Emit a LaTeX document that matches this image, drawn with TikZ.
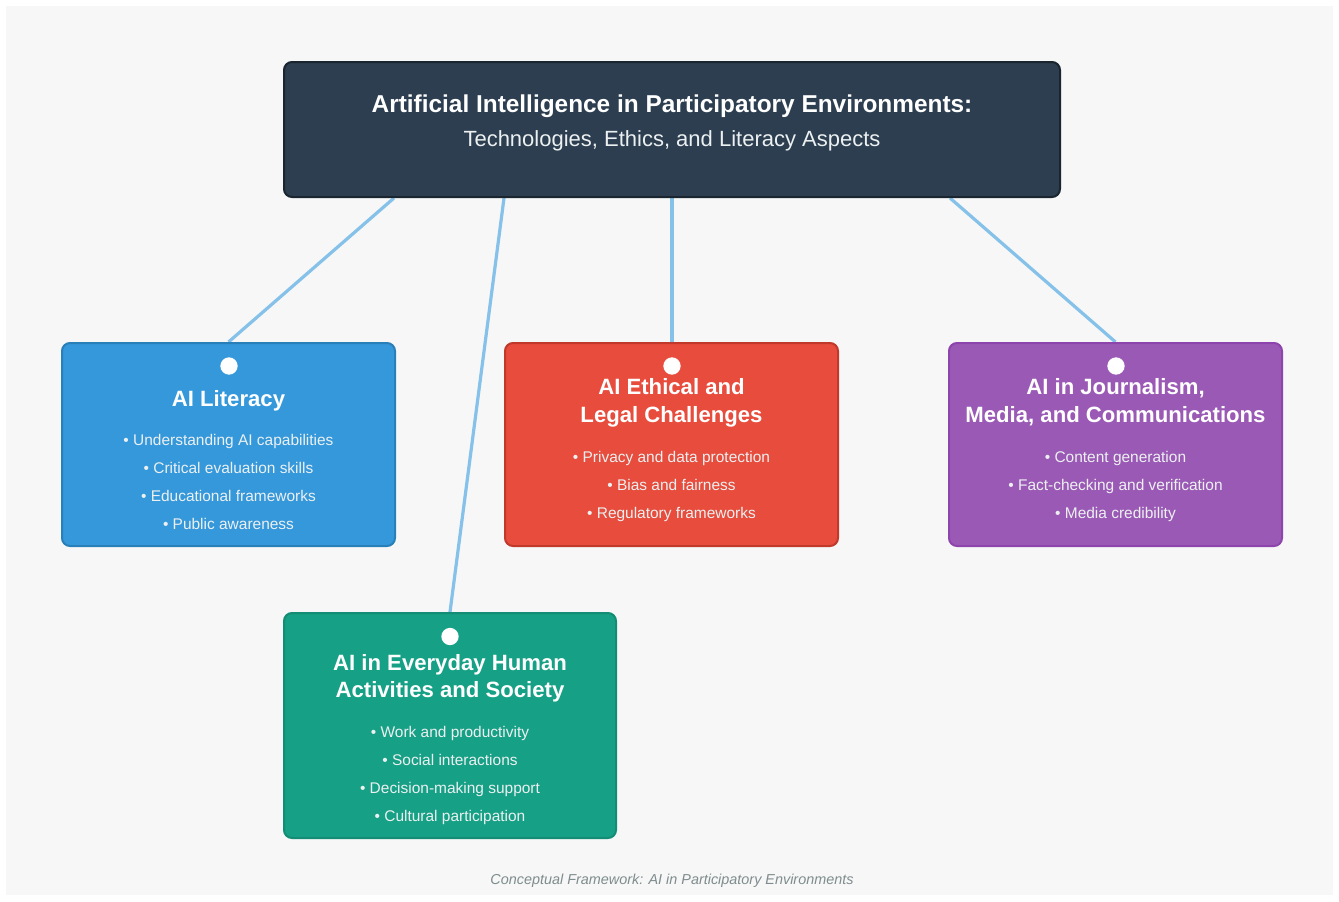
\documentclass[tikz,border=0pt]{standalone}
\usepackage{fontspec}
\setmainfont{Liberation Sans}
\usetikzlibrary{calc,backgrounds}
\definecolor{bgc}{HTML}{F7F7F7}
\definecolor{topfill}{HTML}{2C3E50}
\definecolor{topline}{HTML}{1A252F}
\definecolor{bluef}{HTML}{3498DB}
\definecolor{bluel}{HTML}{2980B9}
\definecolor{redf}{HTML}{E74C3C}
\definecolor{redl}{HTML}{C0392B}
\definecolor{purf}{HTML}{9B59B6}
\definecolor{purl}{HTML}{8E44AD}
\definecolor{grnf}{HTML}{16A085}
\definecolor{grnl}{HTML}{138D75}
\definecolor{conn}{HTML}{85C1E9}
\definecolor{itemc}{HTML}{ECF0F1}
\definecolor{capc}{HTML}{7F8C8D}
\tikzset{
  box/.style={rectangle, rounded corners=6pt, line width=1.5pt, inner sep=0pt},
  connector/.style={conn, line width=2.4pt},
  dot/.style={circle, fill=white, draw=none, minimum size=13pt, inner sep=0pt},
  ttl/.style={anchor=base, text=white, font=\fontsize{16.6}{19}\selectfont\bfseries},
  itm/.style={anchor=base, text=itemc, font=\fontsize{11.6}{14}\selectfont},
}
\begin{document}
\begin{tikzpicture}[x=0.75pt,y=-0.75pt]
\useasboundingbox (0,0) rectangle (1339,901);
% boxes
\node[box, fill=topfill, draw=topline, minimum width={776*0.75pt}, minimum height={135*0.75pt}] (top) at (672,129.5) {};
\node[box, fill=bluef, draw=bluel, minimum width={333*0.75pt}, minimum height={203*0.75pt}] (lit) at (228.5,444.5) {};
\node[box, fill=redf, draw=redl, minimum width={333*0.75pt}, minimum height={203*0.75pt}] (eth) at (671.5,444.5) {};
\node[box, fill=purf, draw=purl, minimum width={333*0.75pt}, minimum height={203*0.75pt}] (jou) at (1115.5,444.5) {};
\node[box, fill=grnf, draw=grnl, minimum width={332*0.75pt}, minimum height={225*0.75pt}] (evd) at (450,725.5) {};
% top texts
\node[anchor=base, text=white, font=\fontsize{18.3}{22}\selectfont\bfseries] (toptitle) at (672,112.5) {Artificial Intelligence in Participatory Environments:};
\node[anchor=base, text=itemc, font=\fontsize{16.5}{19}\selectfont] (topsub) at (672,146.5) {Technologies, Ethics, and Literacy Aspects};
% dots
\node[dot] (litdot) at (229,366) {};
\node[dot] (ethdot) at (672,366) {};
\node[dot] (joudot) at (1116,366) {};
\node[dot] (evddot) at (450,636.5) {};
% AI Literacy
\node[ttl] (litt) at (228.5,406) {AI Literacy};
\node[itm] (lit1) at (228.5,445) {• Understanding AI capabilities};
\node[itm] (lit2) at (228.5,473) {• Critical evaluation skills};
\node[itm] (lit3) at (228.5,501) {• Educational frameworks};
\node[itm] (lit4) at (228.5,529) {• Public awareness};
% Ethical
\node[ttl] (etht1) at (671.5,394) {AI Ethical and};
\node[ttl] (etht2) at (671.5,422) {Legal Challenges};
\node[itm] (eth1) at (671.5,462) {• Privacy and data protection};
\node[itm] (eth2) at (671.5,490) {• Bias and fairness};
\node[itm] (eth3) at (671.5,518) {• Regulatory frameworks};
% Journalism
\node[ttl] (jout1) at (1115.5,394) {AI in Journalism,};
\node[ttl] (jout2) at (1115.5,422) {Media, and Communications};
\node[itm] (jou1) at (1115.5,462) {• Content generation};
\node[itm] (jou2) at (1115.5,490) {• Fact-checking and verification};
\node[itm] (jou3) at (1115.5,518) {• Media credibility};
% Everyday
\node[ttl] (evdt1) at (450,670) {AI in Everyday Human};
\node[ttl] (evdt2) at (450,697.5) {Activities and Society};
\node[itm] (evd1) at (450,737) {• Work and productivity};
\node[itm] (evd2) at (450,765) {• Social interactions};
\node[itm] (evd3) at (450,793) {• Decision-making support};
\node[itm] (evd4) at (450,821.5) {• Cultural participation};
% caption
\node[anchor=base, text=capc, font=\fontsize{10.8}{13}\selectfont\itshape] (cap) at (672,884.5) {Conceptual Framework: AI in Participatory Environments};
% background and connectors
\begin{scope}[on background layer]
\fill[white] (0,0) rectangle (1339,901);
\fill[bgc] (6,6) rectangle (1333,895);
\draw[connector] ($(top.south west)+(111,0)$) -- (lit.north);
\draw[connector] ($(top.south west)+(221,0)$) -- (evd.north);
\draw[connector] (top.south) -- (top.south |- eth.north);
\draw[connector] ($(top.south east)+(-111,0)$) -- (jou.north);
\end{scope}
\end{tikzpicture}
\end{document}
